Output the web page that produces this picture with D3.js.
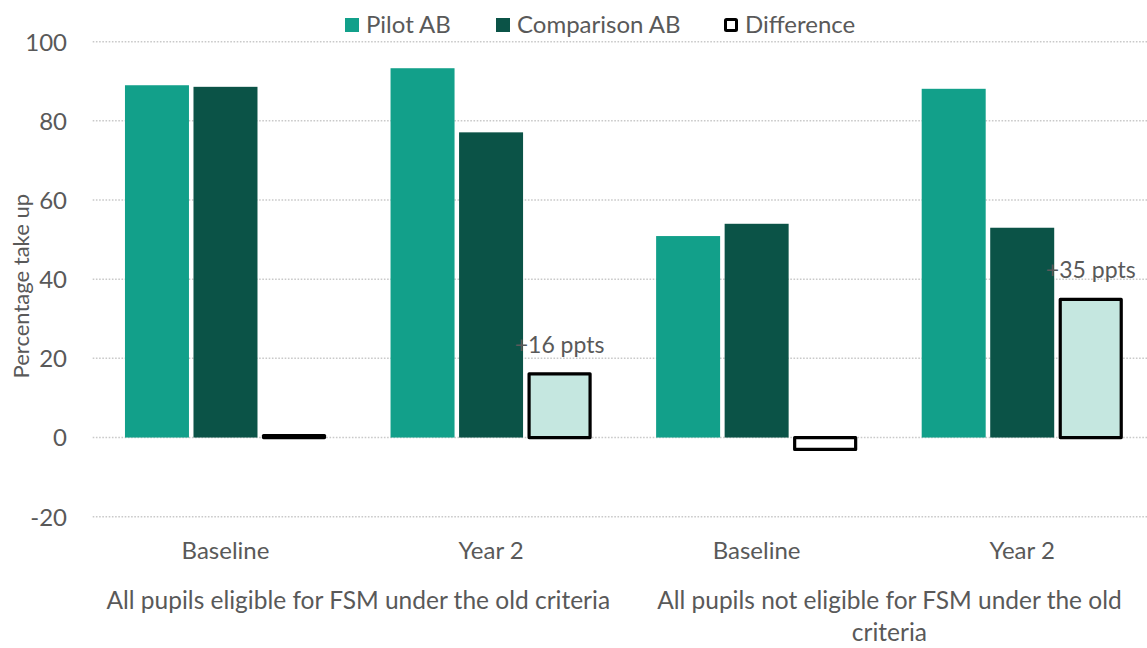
<!DOCTYPE html>
<html>
<head>
<meta charset="utf-8">
<script src="https://cdn.jsdelivr.net/npm/d3@7"></script>
<style>
  html, body { margin: 0; padding: 0; background: #fff; }
  svg { display: block; font-family: Lato, "Open Sans", sans-serif; }
</style>
</head>
<body>
<svg id="chart" width="1147" height="648"></svg>
<script>
// ---- data ----
const categories = ["Baseline", "Year 2", "Baseline ", "Year 2 "];
const categoryLabels = ["Baseline", "Year 2", "Baseline", "Year 2"];
const groupLabels = [
  ["All pupils eligible for FSM under the old criteria"],
  ["All pupils not eligible for FSM under the old", "criteria"]
];
const seriesNames = ["Pilot AB", "Comparison AB", "Difference"];
const pilotAB = [89.0, 93.3, 50.9, 88.1];
const comparisonAB = [88.6, 77.1, 54.0, 53.0];
const difference = [0.5, 16.1, -3.0, 34.9];
const differenceLabels = ["", "+16 ppts", "", "+35 ppts"];
const yTicks = [-20, 0, 20, 40, 60, 80, 100];

// ---- layout ----
const svg = d3.select("#chart");
const W = 1147, H = 648;
const plotLeft = 92.7, plotRight = 1155, plotTop = 41.7, plotBottom = 516.7;
const textColor = "#595959";
const colors = { "Pilot AB": "#12a08a", "Comparison AB": "#0b5347" };

const y = d3.scaleLinear().domain([-20, 100]).range([plotBottom, plotTop]);
const x0 = d3.scaleBand().domain(categories).range([plotLeft, plotRight])
  .paddingInner(0.243).paddingOuter(0.1215);
const x1 = d3.scaleBand().domain(seriesNames).range([0, x0.bandwidth()])
  .paddingInner(0.066).paddingOuter(0);

// gridlines
const gGrid = svg.append("g");
gGrid.selectAll("line").data(yTicks).join("line")
  .attr("x1", plotLeft).attr("x2", W)
  .attr("y1", d => y(d)).attr("y2", d => y(d))
  .attr("stroke", "#c9c9c9").attr("stroke-width", 1.5)
  .attr("stroke-dasharray", "1.6,1.6");

const yAxis = d3.axisLeft(y).tickValues(yTicks).tickSize(0).tickPadding(0)
  .tickFormat(d => String(d));
const gAxis = svg.append("g").attr("transform", "translate(67,0)").call(yAxis);
gAxis.select(".domain").remove();
gAxis.selectAll("text").attr("fill", textColor).style("font-size", "24px")
  .style("font-family", "Lato, 'Open Sans', sans-serif")
  .attr("dy", "0.35em");

// y axis title
svg.append("text")
  .attr("transform", `translate(29,${(plotTop + plotBottom) / 2 + 7}) rotate(-90)`)
  .attr("text-anchor", "middle").attr("fill", textColor)
  .style("font-size", "22px").text("Percentage take up");

// bars
const rows = categories.map((c, i) => ({
  cat: c, i,
  vals: [
    { s: "Pilot AB", v: pilotAB[i] },
    { s: "Comparison AB", v: comparisonAB[i] },
    { s: "Difference", v: difference[i] }
  ]
}));

const gBars = svg.append("g");
const groups = gBars.selectAll("g").data(rows).join("g")
  .attr("transform", d => `translate(${x0(d.cat)},0)`);

groups.selectAll("rect.solid").data(d => d.vals.filter(v => v.s !== "Difference")).join("rect")
  .attr("class", "solid")
  .attr("x", d => x1(d.s)).attr("width", x1.bandwidth())
  .attr("y", d => y(Math.max(0, d.v)))
  .attr("height", d => Math.abs(y(d.v) - y(0)))
  .attr("fill", d => colors[d.s]);

groups.selectAll("rect.diff").data(d => d.vals.filter(v => v.s === "Difference").map(v => ({ ...v, i: d.i })))
  .join("rect")
  .attr("class", "diff")
  .attr("x", d => x1(d.s) + 1.5).attr("width", x1.bandwidth() - 3)
  .attr("y", d => y(Math.max(0, d.v)))
  .attr("height", d => Math.abs(y(d.v) - y(0)))
  .attr("fill", d => d.i % 2 === 1 ? "#c5e7e0" : "#ffffff")
  .attr("stroke", "#000").attr("stroke-width", 3.2)
  .attr("stroke-linejoin", "round");

// difference labels
groups.selectAll("text.lbl").data(d => differenceLabels[d.i] ? [{ t: differenceLabels[d.i], v: difference[d.i] }] : [])
  .join("text").attr("class", "lbl")
  .attr("x", x1("Difference") + x1.bandwidth() / 2)
  .attr("y", d => y(d.v) - 21)
  .attr("text-anchor", "middle").attr("fill", textColor)
  .style("font-size", "23px").text(d => d.t);

// category labels
svg.append("g").selectAll("text").data(categories).join("text")
  .attr("x", d => x0(d) + x0.bandwidth() / 2).attr("y", 559)
  .attr("text-anchor", "middle").attr("fill", textColor)
  .style("font-size", "24px").text((d, i) => categoryLabels[i]);

// group labels
const gGroup = svg.append("g");
groupLabels.forEach((lines, gi) => {
  const cx = (x0(categories[gi * 2]) + x0(categories[gi * 2 + 1]) + x0.bandwidth()) / 2;
  const t = gGroup.append("text").attr("text-anchor", "middle").attr("fill", textColor)
    .style("font-size", "24.5px");
  lines.forEach((ln, li) => {
    t.append("tspan").attr("x", cx).attr("y", 609 + li * 32).text(ln);
  });
});

// legend
const legendItems = [
  { s: "Pilot AB", x: 345 },
  { s: "Comparison AB", x: 496 },
  { s: "Difference", x: 724 }
];
const gLeg = svg.append("g");
legendItems.forEach(it => {
  if (it.s === "Difference") {
    gLeg.append("rect").attr("x", it.x + 1.5).attr("y", 19.5).attr("width", 11).attr("height", 11)
      .attr("fill", "#fff").attr("stroke", "#000").attr("stroke-width", 3).attr("rx", 1);
  } else {
    gLeg.append("rect").attr("x", it.x).attr("y", 18).attr("width", 14).attr("height", 14)
      .attr("fill", colors[it.s]);
  }
  gLeg.append("text").attr("x", it.x + 21).attr("y", 33).attr("fill", textColor)
    .style("font-size", "24px").text(it.s);
});
</script>
</body>
</html>
